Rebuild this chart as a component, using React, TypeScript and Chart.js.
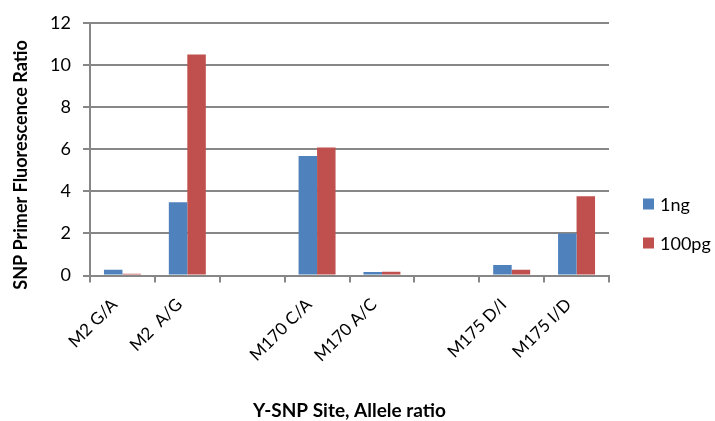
import React, { useEffect, useRef } from "react";
import { Chart, registerables } from "chart.js";

Chart.register(...registerables);

const categories = ["M2 G/A", "M2  A/G", "", "M170 C/A", "M170 A/C", "", "M175 D/I", "M175 I/D"];
const series1Name = "1ng";
const series2Name = "100pg";
const series1Values = [0.27, 3.48, null, 5.67, 0.17, null, 0.5, 2.0];
const series2Values = [0.08, 10.5, null, 6.08, 0.18, null, 0.27, 3.76];
const yTicks = [0, 2, 4, 6, 8, 10, 12];
const yTitle = "SNP Primer Fluorescence Ratio";
const xTitle = "Y-SNP Site, Allele ratio";

const FONT = "Lato, 'Open Sans', sans-serif";
const GRID = "#878787";

const overlayPlugin = {
  id: "overlay",
  afterDraw(chart: any) {
    const ctx = chart.ctx;
    const area = chart.chartArea;
    ctx.save();
    ctx.fillStyle = "#000";
    ctx.textAlign = "center";
    ctx.textBaseline = "middle";
    // y title
    ctx.font = `bold 18px ${FONT}`;
    ctx.save();
    ctx.translate(21, 165);
    ctx.rotate(-Math.PI / 2);
    ctx.fillText(yTitle, 0, 0);
    ctx.restore();
    // x title
    ctx.font = `bold 19px ${FONT}`;
    ctx.fillText(xTitle, (area.left + area.right) / 2, 411);
    // legend
    ctx.font = `18px ${FONT}`;
    ctx.textAlign = "left";
    const ys = [204, 243];
    chart.data.datasets.forEach((ds: any, i: number) => {
      ctx.fillStyle = ds.backgroundColor;
      ctx.fillRect(643, ys[i] - 5.5, 11, 11);
      ctx.fillStyle = "#000";
      ctx.fillText(ds.label, 660, ys[i] + 1);
    });
    ctx.restore();
  },
};

export default function App() {
  const ref = useRef<HTMLCanvasElement>(null);
  useEffect(() => {
    document.body.style.margin = "0";
    const chart = new Chart(ref.current!, {
      type: "bar",
      data: {
        labels: categories,
        datasets: [
          { label: series1Name, data: series1Values, backgroundColor: "#4F81BD" },
          { label: series2Name, data: series2Values, backgroundColor: "#C0504D" },
        ],
      },
      options: {
        animation: false,
        responsive: false,
        maintainAspectRatio: false,
        layout: { padding: { top: 18, right: 106, left: 0, bottom: 0 } },
        datasets: { bar: { barPercentage: 1, categoryPercentage: 0.57 } },
        plugins: { legend: { display: false }, tooltip: { enabled: false } },
        scales: {
          x: {
            grid: { offset: true, drawOnChartArea: false, drawTicks: true, tickLength: 7, color: GRID, lineWidth: 2 },
            border: { display: true, color: GRID, width: 2 },
            ticks: { minRotation: 45, maxRotation: 45, autoSkip: false, color: "#000", font: { family: FONT, size: 17 }, padding: 12, labelOffset: -8 },
            afterFit: (s: any) => { s.height = 145.5; },
          },
          y: {
            min: 0,
            max: 12,
            afterBuildTicks: (s: any) => { s.ticks = yTicks.map((v) => ({ value: v })); },
            grid: { color: GRID, lineWidth: 2, drawTicks: true, tickLength: 7 },
            border: { display: true, color: GRID, width: 2 },
            ticks: { color: "#000", font: { family: FONT, size: 18 }, padding: 12 },
            afterFit: (s: any) => { s.width = 90; },
          },
        },
      },
      plugins: [overlayPlugin],
    });
    return () => chart.destroy();
  }, []);
  return (
    <div style={{ width: 715, height: 421 }}>
      <canvas ref={ref} width={715} height={421} />
    </div>
  );
}
